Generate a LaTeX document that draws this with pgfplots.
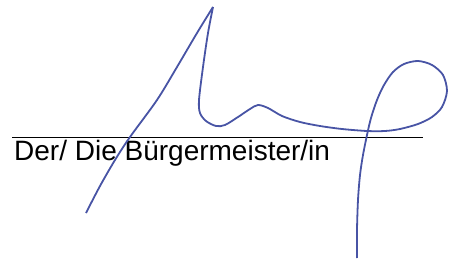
\documentclass[border=0pt]{standalone}
\usepackage{pgfplots}
\pgfplotsset{compat=1.18}
\usepackage{fontspec}
\setmainfont{Liberation Sans}
\definecolor{ink}{RGB}{72,84,165}
\begin{document}
\begin{tikzpicture}
\begin{axis}[
  width=450pt, height=265pt, scale only axis,
  xmin=0, xmax=450, ymin=0, ymax=265, y dir=reverse,
  axis lines=none, clip=false,
]
\addplot[black, line width=1.5pt] coordinates {(12,137.5) (423,137.5)};
\node[anchor=base west, inner sep=0pt, font=\fontsize{28}{32}\selectfont] at (axis cs:14,160) {Der/ Die Bürgermeister/in};
\addplot[ink, line width=1.8pt, smooth, tension=0.5] coordinates {
(86,213) (100,186) (115,160) (130,137) (157,100) (177,67) (197,33) (213,7)};
\addplot[ink, line width=1.8pt, smooth, tension=0.5] coordinates {
(213,7) (208,33) (203,67) (199,100) (200,113) (206,121) (216,126) (225,125)
(238,117) (250,109) (258,105) (268,108) (282,116) (300,122) (320,126) (342,129)
(367,131) (385,131) (400,129) (418,124) (432,117) (442,107) (447,91) (443,75)
(432,65) (418,61) (404,64) (393,72) (384,85) (377,100) (371,118) (367,135)
(363,155) (360,175) (358,200) (357,230) (357,258)};
\end{axis}
\path (current axis.south west) rectangle (current axis.north east);
\end{tikzpicture}
\end{document}
